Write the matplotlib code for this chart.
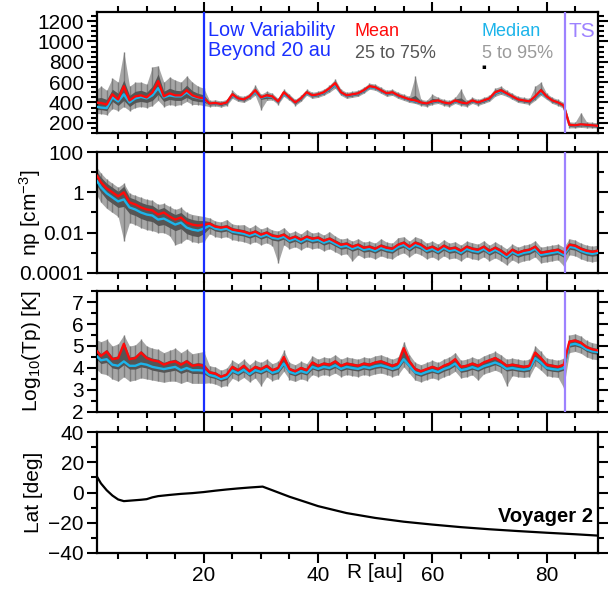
import numpy as np
import matplotlib
matplotlib.use("Agg")
import matplotlib.pyplot as plt
from matplotlib import transforms
from matplotlib.ticker import MultipleLocator, FixedLocator, NullFormatter

# ---------------- data ----------------
R = list(range(1, 90))

speed_mean = [400,395,380,480,430,560,420,460,470,450,
              500,610,460,490,470,470,520,470,450,440,
              390,395,385,400,480,440,430,460,520,450,
              470,460,410,500,450,400,440,500,470,480,
              500,540,590,500,470,480,490,520,560,550,
              520,490,500,470,450,430,420,400,390,410,
              420,400,390,420,400,390,420,400,420,440,
              500,520,490,460,430,420,410,460,520,460,
              420,400,370,180,175,185,180,175,170]
speed_median = [360,350,345,450,410,480,400,440,455,440,
                470,540,450,470,460,460,500,460,445,435,
                388,392,383,398,470,436,428,455,505,446,
                462,455,408,485,447,398,436,492,466,476,
                494,532,575,494,466,476,486,514,552,544,
                515,486,495,466,446,426,412,398,388,406,
                416,398,388,414,396,388,416,398,416,436,
                490,512,484,456,428,418,408,452,505,455,
                418,398,368,178,172,182,178,172,168]
speed_q25 = [330,330,320,410,370,420,360,400,410,400,
             420,480,410,430,420,420,450,420,410,405,
             375,380,370,385,460,425,415,445,495,430,
             440,440,395,480,435,385,425,485,455,465,
             485,520,565,485,455,465,475,505,545,535,
             505,475,485,455,435,415,400,385,375,395,
             405,385,375,405,385,375,405,385,405,425,
             480,500,475,445,415,405,395,440,490,445,
             405,385,355,165,160,170,165,160,158]
speed_q75 = [440,450,430,530,490,620,470,510,520,500,
             560,680,510,540,520,515,570,515,490,475,
             405,410,400,415,500,455,445,475,540,465,
             490,475,425,515,465,415,455,515,485,495,
             515,555,610,515,485,495,505,535,575,565,
             535,505,515,485,465,445,470,415,405,440,
             435,415,405,435,445,405,435,415,435,455,
             520,540,505,475,445,435,425,475,545,475,
             435,415,385,195,190,200,195,190,185]
speed_q05 = [290,290,280,340,320,360,320,350,360,350,
             370,420,360,380,370,380,410,380,380,370,
             360,365,355,370,440,410,400,430,470,330,
             420,425,380,460,420,370,410,470,440,450,
             470,500,540,470,440,450,460,490,530,520,
             490,460,470,440,420,400,390,370,360,380,
             390,370,360,390,370,360,390,370,390,410,
             460,480,460,430,400,390,380,420,470,430,
             390,370,340,150,150,155,150,150,148]
speed_q95 = [520,560,520,640,600,900,560,600,600,580,
             750,760,600,650,620,600,660,600,560,540,
             420,425,415,430,520,470,460,490,570,480,
             510,490,440,530,480,430,470,530,500,510,
             530,570,630,530,500,510,520,550,590,580,
             550,520,530,500,480,460,660,430,420,480,
             450,430,420,450,530,420,450,430,450,470,
             540,560,520,490,460,450,440,560,600,490,
             450,430,400,210,205,300,210,205,200]

# proton density, log10(cm^-3)
np_log_mean = [0.95,0.5,0.2,0.0,-0.2,0.0,-0.5,-0.6,-0.75,-0.85,
               -0.9,-1.1,-1.0,-1.2,-1.35,-1.25,-1.5,-1.6,-1.65,-1.6,
               -1.55,-1.7,-1.75,-1.7,-1.85,-1.9,-1.95,-2.05,-1.95,-2.1,
               -2.0,-2.15,-2.2,-2.1,-2.3,-2.2,-2.35,-2.2,-2.3,-2.25,
               -2.4,-2.3,-2.45,-2.6,-2.55,-2.7,-2.6,-2.75,-2.7,-2.8,
               -2.65,-2.75,-2.8,-2.6,-2.5,-2.7,-2.5,-2.6,-2.8,-2.7,
               -2.85,-2.65,-2.8,-2.75,-2.9,-2.7,-2.8,-2.85,-2.7,-2.9,
               -2.75,-2.9,-3.1,-2.85,-3.0,-2.9,-2.85,-2.7,-3.0,-2.95,
               -2.9,-2.85,-3.0,-2.6,-2.65,-2.8,-2.9,-2.95,-2.9]
np_log_median = [0.7,0.25,-0.05,-0.25,-0.45,-0.35,-0.75,-0.85,-1.0,-1.1,
                 -1.15,-1.35,-1.3,-1.45,-1.6,-1.5,-1.75,-1.85,-1.9,-1.8,
                 -1.65,-1.8,-1.85,-1.8,-1.95,-2.0,-2.05,-2.15,-2.05,-2.2,
                 -2.1,-2.25,-2.3,-2.2,-2.4,-2.3,-2.45,-2.3,-2.4,-2.35,
                 -2.5,-2.4,-2.55,-2.7,-2.65,-2.8,-2.7,-2.85,-2.8,-2.9,
                 -2.75,-2.85,-2.9,-2.7,-2.6,-2.8,-2.6,-2.7,-2.9,-2.8,
                 -2.95,-2.75,-2.9,-2.85,-3.0,-2.8,-2.9,-2.95,-2.8,-3.0,
                 -2.85,-3.0,-3.2,-2.95,-3.1,-3.0,-2.95,-2.8,-3.1,-3.05,
                 -3.0,-2.95,-3.1,-2.7,-2.75,-2.9,-3.0,-3.05,-3.0]
np_log_q25 = [0.45,0.0,-0.35,-0.55,-0.75,-0.7,-1.05,-1.15,-1.3,-1.4,
              -1.45,-1.65,-1.6,-1.75,-1.9,-1.8,-2.05,-2.15,-2.2,-2.05,
              -1.77,-1.92,-1.97,-1.92,-2.07,-2.12,-2.17,-2.27,-2.17,-2.32,
              -2.22,-2.37,-2.42,-2.32,-2.52,-2.42,-2.57,-2.42,-2.52,-2.47,
              -2.62,-2.52,-2.67,-2.82,-2.77,-2.92,-2.82,-2.97,-2.92,-3.02,
              -2.87,-2.97,-3.02,-2.82,-2.72,-2.92,-2.72,-2.82,-3.02,-2.92,
              -3.07,-2.87,-3.02,-2.97,-3.12,-2.92,-3.02,-3.07,-2.92,-3.12,
              -2.97,-3.12,-3.32,-3.07,-3.22,-3.12,-3.07,-2.92,-3.22,-3.17,
              -3.12,-3.07,-3.22,-2.82,-2.87,-3.02,-3.12,-3.17,-3.12]
np_log_q75 = [1.15,0.75,0.45,0.25,0.05,0.3,-0.25,-0.35,-0.5,-0.6,
              -0.65,-0.85,-0.75,-0.95,-1.1,-1.0,-1.25,-1.35,-1.4,-1.4,
              -1.45,-1.6,-1.65,-1.6,-1.75,-1.8,-1.85,-1.95,-1.85,-2.0,
              -1.9,-2.05,-2.1,-2.0,-2.2,-2.1,-2.25,-2.1,-2.2,-2.15,
              -2.3,-2.2,-2.35,-2.5,-2.45,-2.6,-2.5,-2.65,-2.6,-2.7,
              -2.55,-2.65,-2.7,-2.5,-2.4,-2.6,-2.4,-2.5,-2.7,-2.6,
              -2.75,-2.55,-2.7,-2.65,-2.8,-2.6,-2.7,-2.75,-2.6,-2.8,
              -2.65,-2.8,-3.0,-2.75,-2.9,-2.8,-2.75,-2.6,-2.9,-2.85,
              -2.8,-2.75,-2.9,-2.5,-2.55,-2.7,-2.8,-2.85,-2.8]
np_log_q05 = [0.0,-0.5,-0.8,-1.0,-1.2,-2.4,-1.5,-1.6,-1.75,-1.85,
              -1.9,-2.0,-2.0,-2.15,-2.6,-2.5,-2.3,-2.45,-2.5,-2.45,
              -2.05,-2.2,-2.25,-2.2,-2.35,-2.4,-2.45,-2.55,-2.45,-2.6,
              -2.5,-2.65,-3.5,-2.6,-2.8,-2.7,-2.85,-2.7,-2.8,-2.75,
              -2.9,-2.8,-2.95,-3.1,-3.05,-3.4,-3.1,-3.25,-3.2,-3.3,
              -3.15,-3.25,-3.3,-3.1,-3.0,-3.2,-3.0,-3.1,-3.3,-3.2,
              -3.35,-3.15,-3.3,-3.25,-3.4,-3.2,-3.3,-3.35,-3.2,-3.4,
              -3.25,-3.4,-3.6,-3.35,-3.5,-3.4,-3.35,-3.2,-3.5,-3.45,
              -3.4,-3.35,-3.65,-3.1,-3.15,-3.3,-3.4,-3.45,-3.4]
np_log_q95 = [1.35,0.95,0.65,0.45,0.25,0.45,-0.05,-0.15,-0.25,-0.35,
              -0.4,-0.6,-0.55,-0.7,-0.85,-0.75,-1.0,-1.1,-1.15,-1.2,
              -1.27,-1.42,-1.47,-1.35,-1.57,-1.62,-1.6,-1.77,-1.62,-1.82,
              -1.72,-1.87,-1.92,-1.75,-2.02,-1.92,-2.07,-1.85,-2.02,-1.97,
              -2.12,-1.95,-2.17,-2.32,-2.27,-2.42,-2.3,-2.47,-2.42,-2.52,
              -2.3,-2.47,-2.52,-2.25,-2.2,-2.42,-2.2,-2.3,-2.52,-2.42,
              -2.57,-2.35,-2.52,-2.45,-2.62,-2.42,-2.5,-2.57,-2.4,-2.62,
              -2.45,-2.62,-2.8,-2.57,-2.72,-2.62,-2.57,-2.4,-2.72,-2.67,
              -2.62,-2.57,-2.72,-2.3,-2.37,-2.52,-2.62,-2.67,-2.62]

# proton temperature, log10(K)
tp_mean = [4.85,4.55,4.75,4.4,4.45,5.1,4.4,4.45,4.7,4.45,
           4.35,4.3,4.15,4.25,4.3,4.15,4.3,4.1,4.15,4.1,
           3.8,3.75,3.6,3.7,4.05,3.9,4.1,3.85,4.05,3.95,
           4.1,3.9,4.0,4.5,3.95,3.85,4.0,3.9,4.25,4.1,
           4.2,4.15,4.3,4.1,4.2,4.15,4.1,4.2,4.15,4.25,
           4.3,4.2,4.1,4.2,4.9,4.3,3.95,3.85,3.95,4.05,
           3.95,4.1,4.2,4.4,4.05,4.1,4.2,4.1,4.25,4.35,
           4.45,4.3,4.1,4.15,4.1,4.05,4.1,4.7,4.45,4.15,
           4.1,4.05,4.15,5.2,5.25,5.15,4.95,4.85,4.8]
tp_median = [4.6,4.35,4.4,4.15,4.1,4.3,4.1,4.1,4.2,4.15,
             4.05,4.0,3.95,4.0,4.05,3.9,4.0,3.9,3.9,3.88,
             3.68,3.62,3.5,3.58,3.88,3.76,3.92,3.72,3.9,3.82,
             3.95,3.78,3.86,4.2,3.82,3.74,3.86,3.78,4.05,3.96,
             4.05,4.0,4.12,3.96,4.05,4.0,3.96,4.05,4.0,4.08,
             4.12,4.05,3.96,4.04,4.4,4.1,3.8,3.72,3.82,3.9,
             3.82,3.95,4.04,4.2,3.9,3.95,4.04,3.95,4.08,4.16,
             4.25,4.14,3.96,4.0,3.95,3.92,3.96,4.45,4.25,4.0,
             3.95,3.92,4.0,5.05,5.1,5.02,4.85,4.76,4.72]
tp_q25 = [4.45,4.2,4.25,4.0,3.95,4.15,3.95,3.95,4.05,4.0,
          3.9,3.85,3.8,3.85,3.9,3.75,3.85,3.75,3.75,3.73,
          3.58,3.52,3.4,3.48,3.78,3.66,3.82,3.62,3.8,3.72,
          3.85,3.68,3.76,4.1,3.72,3.64,3.76,3.68,3.95,3.86,
          3.95,3.9,4.02,3.86,3.95,3.9,3.86,3.95,3.9,3.98,
          4.02,3.95,3.86,3.94,4.3,4.0,3.7,3.62,3.72,3.8,
          3.72,3.85,3.94,4.1,3.8,3.85,3.94,3.85,3.98,4.06,
          4.15,4.04,3.86,3.9,3.85,3.82,3.86,4.35,4.15,3.9,
          3.85,3.82,3.9,4.95,5.0,4.92,4.75,4.66,4.62]
tp_q75 = [4.95,4.65,4.85,4.5,4.55,5.2,4.5,4.55,4.8,4.55,
          4.45,4.4,4.25,4.35,4.4,4.25,4.4,4.2,4.25,4.2,
          3.88,3.83,3.68,3.78,4.13,3.98,4.18,3.93,4.13,4.03,
          4.18,3.98,4.08,4.58,4.03,3.93,4.08,3.98,4.33,4.18,
          4.28,4.23,4.38,4.18,4.28,4.23,4.18,4.28,4.23,4.33,
          4.38,4.28,4.18,4.28,4.98,4.38,4.03,3.93,4.03,4.13,
          4.03,4.18,4.28,4.48,4.13,4.18,4.28,4.18,4.33,4.43,
          4.53,4.38,4.18,4.23,4.18,4.13,4.18,4.78,4.53,4.23,
          4.18,4.13,4.23,5.28,5.33,5.23,5.03,4.93,4.88]
tp_q05 = [4.0,3.75,3.7,3.5,3.4,3.6,3.4,3.45,3.55,3.5,
          3.45,3.4,3.35,3.4,3.4,3.3,3.4,3.3,3.3,3.3,
          3.33,3.27,3.15,3.2,3.53,3.41,3.57,3.37,3.55,3.2,
          3.6,3.43,3.51,3.85,3.47,3.39,3.51,3.43,3.7,3.61,
          3.7,3.65,3.77,3.61,3.7,3.65,3.61,3.7,3.65,3.73,
          3.77,3.7,3.61,3.69,4.05,3.75,3.45,3.37,3.47,3.55,
          3.47,3.6,3.69,3.85,3.55,3.6,3.69,3.45,3.73,3.81,
          3.9,3.79,3.2,3.65,3.6,3.57,3.61,4.1,3.9,3.65,
          3.6,3.57,3.1,4.7,4.75,4.67,4.5,4.41,4.37]
tp_q95 = [5.3,5.2,5.3,5.0,5.1,5.5,5.0,5.05,5.3,5.0,
          4.9,4.85,4.7,4.8,4.9,4.7,4.85,4.65,4.7,4.75,
          4.1,4.05,3.9,4.0,4.35,4.2,4.4,4.15,4.35,4.25,
          4.4,4.2,4.3,4.8,4.25,4.15,4.3,4.2,4.55,4.4,
          4.5,4.45,4.6,4.4,4.5,4.45,4.4,4.5,4.45,4.55,
          4.6,4.5,4.4,4.5,5.2,4.6,4.25,4.15,4.25,4.35,
          4.25,4.4,4.5,4.7,4.35,4.4,4.5,4.4,4.55,4.65,
          4.75,4.6,4.4,4.45,4.4,4.35,4.4,5.0,4.75,4.45,
          4.4,4.35,4.45,5.5,5.55,5.45,5.25,5.15,5.1]

# heliographic latitude of Voyager 2
lat_R = [1.3,2,3,4,5,6,7,8,9,10,11,12,14,16,18,20,22,24,26,28,30.3,32,35,38,40,
         45,50,55,60,65,70,75,80,85,89]
lat_deg = [10.5,6,1.5,-2,-4.6,-5.7,-5.4,-5.1,-4.8,-4.4,-3.2,-2.4,-1.6,-0.9,-0.4,0.3,
           1.2,2.0,2.7,3.3,3.9,1.5,-2.8,-6.5,-9.0,-13.6,-16.8,-19.3,-21.2,-22.9,
           -24.3,-25.5,-26.6,-27.6,-28.5]

R_low_var = 20.0
R_TS = 83.3
xlim = (1.3, 89.0)

# ---------------- style ----------------
plt.rcParams["font.family"] = ["Liberation Sans", "DejaVu Sans"]
plt.rcParams["mathtext.fontset"] = "custom"
plt.rcParams["mathtext.rm"] = "Liberation Sans"
plt.rcParams["mathtext.it"] = "Liberation Sans"

C_MEAN = "#ff0a0a"
C_MED = "#1cb4ea"
C_Q50 = "#555555"
C_Q90 = "#a6a6a6"
C_TEX = "#7c7c7c"
C_BLUE = "#1a30ff"
C_TS = "#9d82ff"
FS = 15

fig = plt.figure(figsize=(6.08, 5.91), dpi=100)
L, W, H = 0.1595, 0.824, 0.2047
bottoms = [0.7750, 0.5381, 0.3029, 0.0643]
axes = [fig.add_axes([L, b, W, H]) for b in bottoms]

Ra = np.array(R)

def draw_stats(ax, mean, med, q05, q95, q25, q75):
    ax.fill_between(Ra, q05, q95, color=C_Q90, lw=0, zorder=1)
    ax.vlines(Ra, q05, q95, color=C_TEX, lw=1.0, zorder=1.5)
    ax.fill_between(Ra, q25, q75, color=C_Q50, lw=0, zorder=2)
    ax.plot(Ra, med, color=C_MED, lw=1.7, zorder=3)
    ax.plot(Ra, mean, color=C_MEAN, lw=1.7, zorder=4)

ax1, ax2, ax3, ax4 = axes
draw_stats(ax1, speed_mean, speed_median, speed_q05, speed_q95, speed_q25, speed_q75)
p = lambda a: 10.0 ** np.array(a)
draw_stats(ax2, p(np_log_mean), p(np_log_median), p(np_log_q05), p(np_log_q95),
           p(np_log_q25), p(np_log_q75))
draw_stats(ax3, tp_mean, tp_median, tp_q05, tp_q95, tp_q25, tp_q75)
ax4.plot(lat_R, lat_deg, color="black", lw=1.6)

for ax in (ax1, ax2, ax3):
    ax.axvline(R_low_var, color=C_BLUE, lw=1.6, zorder=6)
    ax.axvline(R_TS, color=C_TS, lw=1.6, zorder=6)

# axes limits / ticks
ax1.set_ylim(100, 1290)
ax1.yaxis.set_major_locator(FixedLocator([200, 400, 600, 800, 1000, 1200]))
ax1.yaxis.set_minor_locator(MultipleLocator(50))

ax2.set_yscale("log")
ax2.set_ylim(1e-4, 1e2)
ax2.yaxis.set_major_locator(FixedLocator([1e-4, 1e-2, 1, 100]))
ax2.yaxis.set_minor_locator(FixedLocator([1e-3, 1e-1, 10]))
ax2.yaxis.set_minor_formatter(NullFormatter())
ax2.set_yticklabels(["0.0001", "0.01", "1", "100"])

ax3.set_ylim(2, 7.5)
ax3.yaxis.set_major_locator(MultipleLocator(1))
ax3.yaxis.set_minor_locator(MultipleLocator(0.5))

ax4.set_ylim(-40, 40)
ax4.yaxis.set_major_locator(MultipleLocator(20))
ax4.yaxis.set_minor_locator(MultipleLocator(10))

for i, ax in enumerate(axes):
    ax.set_xlim(*xlim)
    ax.xaxis.set_major_locator(FixedLocator([20, 40, 60, 80]))
    ax.xaxis.set_minor_locator(MultipleLocator(5))
    ax.tick_params(which="both", direction="out", top=True, right=True,
                   labelsize=FS, width=1.5, colors="black", pad=2.5)
    ax.tick_params(which="major", length=7)
    ax.tick_params(which="minor", length=4)
    if i < 3:
        ax.tick_params(axis="x", labelbottom=False)
    for s in ax.spines.values():
        s.set_linewidth(1.6)

ax2.set_ylabel("np [cm$^{-3}$]", fontsize=FS)
ax3.set_ylabel("Log$_{10}$(Tp) [K]", fontsize=FS)
ax4.set_ylabel("Lat [deg]", fontsize=FS)
for ax in (ax2, ax3, ax4):
    ax.yaxis.set_label_coords(-0.107, 0.5)

# x axis title in the tick label row
trans = transforms.offset_copy(ax4.get_xaxis_transform(), fig=fig, y=-7.5, units="points")
ax4.text(50, 0, "R [au]", transform=trans, ha="center", va="top", fontsize=FS)

# annotations
ax1.text(0.222, 0.85, "Low Variability", transform=ax1.transAxes, color=C_BLUE,
         fontsize=14.3, ha="left", va="center")
ax1.text(0.222, 0.68, "Beyond 20 au", transform=ax1.transAxes, color=C_BLUE,
         fontsize=14.3, ha="left", va="center")
ax1.text(0.515, 0.835, "Mean", transform=ax1.transAxes, color=C_MEAN,
         fontsize=13, ha="left", va="center")
ax1.text(0.515, 0.66, "25 to 75%", transform=ax1.transAxes, color="#555555",
         fontsize=13, ha="left", va="center")
ax1.text(0.768, 0.835, "Median", transform=ax1.transAxes, color=C_MED,
         fontsize=13, ha="left", va="center")
ax1.text(0.768, 0.66, "5 to 95%", transform=ax1.transAxes, color="#9a9a9a",
         fontsize=13, ha="left", va="center")
ax1.text(0.768, 0.545, "\u25aa", transform=ax1.transAxes, color="black",
         fontsize=5, ha="left", va="center", family=["DejaVu Sans"])
ax1.text(0.942, 0.835, "TS", transform=ax1.transAxes, color=C_TS,
         fontsize=15, ha="left", va="center")
ax4.text(0.99, 0.30, "Voyager 2", transform=ax4.transAxes, color="black",
         fontsize=14.5, fontweight="bold", ha="right", va="center")

fig.savefig("out.png", dpi=100)
